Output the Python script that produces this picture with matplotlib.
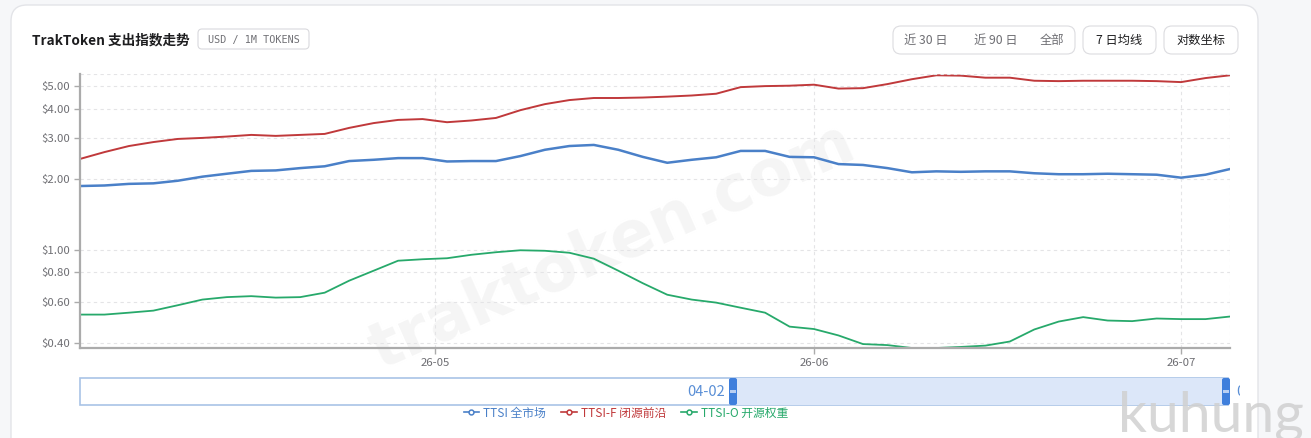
import numpy as np
import pandas as pd
import matplotlib
matplotlib.use("Agg")
import matplotlib.pyplot as plt
import matplotlib.dates as mdates
from matplotlib.patches import FancyBboxPatch, Rectangle
from matplotlib.lines import Line2D
from matplotlib.ticker import NullLocator
from matplotlib.transforms import Bbox

plt.rcParams['font.family'] = ['Noto Sans CJK SC', 'DejaVu Sans']

# ---------------- data ----------------
dates = pd.date_range("2026-04-02", periods=48, freq="2D")

ttsi = [1.87, 1.88, 1.91, 1.92, 1.97, 2.05, 2.11, 2.17, 2.18, 2.23, 2.27, 2.39,
        2.42, 2.46, 2.46, 2.38, 2.39, 2.39, 2.51, 2.67, 2.77, 2.80, 2.67, 2.49,
        2.35, 2.42, 2.48, 2.64, 2.64, 2.49, 2.48, 2.32, 2.30, 2.23, 2.14, 2.16,
        2.15, 2.16, 2.16, 2.12, 2.10, 2.10, 2.11, 2.10, 2.09, 2.03, 2.09, 2.21]

ttsi_f = [2.44, 2.61, 2.77, 2.88, 2.97, 3.00, 3.04, 3.09, 3.06, 3.09, 3.12, 3.31,
          3.47, 3.58, 3.61, 3.50, 3.56, 3.65, 3.94, 4.18, 4.35, 4.44, 4.44, 4.46,
          4.50, 4.55, 4.63, 4.94, 4.99, 5.01, 5.06, 4.87, 4.89, 5.09, 5.34, 5.55,
          5.53, 5.42, 5.42, 5.26, 5.24, 5.26, 5.26, 5.26, 5.24, 5.19, 5.40, 5.55]

ttsi_o = [0.529, 0.529, 0.539, 0.550, 0.580, 0.613, 0.628, 0.634, 0.625, 0.628, 0.656, 0.738,
          0.814, 0.898, 0.911, 0.920, 0.952, 0.976, 0.995, 0.990, 0.971, 0.916, 0.814, 0.720,
          0.643, 0.613, 0.595, 0.566, 0.539, 0.470, 0.459, 0.431, 0.396, 0.392, 0.381, 0.381,
          0.385, 0.390, 0.406, 0.457, 0.494, 0.516, 0.499, 0.496, 0.509, 0.506, 0.506, 0.519]

series_names = ["TTSI 全市场", "TTSI-F 闭源前沿", "TTSI-O 开源权重"]
series_colors = ["#4a80c8", "#c0393b", "#27a96b"]

y_ticks = [0.4, 0.6, 0.8, 1.0, 2.0, 3.0, 4.0, 5.0]
y_labels = ["$0.40", "$0.60", "$0.80", "$1.00", "$2.00", "$3.00", "$4.00", "$5.00"]
x_ticks = pd.to_datetime(["2026-05-01", "2026-06-01", "2026-07-01"])

W, H = 1311, 438
fig = plt.figure(figsize=(W / 100, H / 100), dpi=100)
fig.patch.set_facecolor("#f6f7f9")

# background layer in pixel coords
bg = fig.add_axes([0, 0, 1, 1], zorder=-1)
bg.set_xlim(0, W)
bg.set_ylim(H, 0)
bg.axis("off")

card = FancyBboxPatch((11, 5), 1247, 460, boxstyle="round,pad=0,rounding_size=16",
                      fc="white", ec="#e3e4e8", lw=1.0)
bg.add_patch(card)

bg.text(32, 40, "TrakToken 支出指数走势", fontsize=9.8, fontweight="bold",
        color="#1d1d1f", va="center", ha="left")
bg.add_patch(FancyBboxPatch((198, 29), 111, 20, boxstyle="round,pad=0,rounding_size=4",
                            fc="white", ec="#d9d9dd", lw=0.8))
bg.text(253.5, 39.5, "USD / 1M TOKENS", fontsize=7.3, family="DejaVu Sans Mono",
        color="#707075", ha="center", va="center")

# buttons
bg.add_patch(FancyBboxPatch((893, 26), 182, 28, boxstyle="round,pad=0,rounding_size=8",
                            fc="white", ec="#dcdce0", lw=0.8))
for bx, lab in [(926, "近 30 日"), (996, "近 90 日"), (1052, "全部")]:
    bg.text(bx, 40.5, lab, fontsize=8.8, color="#6e6e73", ha="center", va="center")
bg.add_patch(FancyBboxPatch((1083, 26), 73, 28, boxstyle="round,pad=0,rounding_size=8",
                            fc="white", ec="#dcdce0", lw=0.8))
bg.text(1119.5, 40.5, "7 日均线", fontsize=8.8, color="#1d1d1f", ha="center", va="center")
bg.add_patch(FancyBboxPatch((1164, 26), 74, 28, boxstyle="round,pad=0,rounding_size=8",
                            fc="white", ec="#dcdce0", lw=0.8))
bg.text(1201, 40.5, "对数坐标", fontsize=8.8, color="#1d1d1f", ha="center", va="center")

# watermark behind the lines
bg.text(612, 247, "traktoken.com", fontsize=46, fontweight="bold", color="#f5f5f5",
        rotation=24, ha="center", va="center", family="DejaVu Sans")

# data-zoom slider
bg.add_patch(Rectangle((80, 378), 1148, 27, fc="white", ec="#a9c3e6", lw=1.2))
bg.add_patch(Rectangle((733, 378), 495, 27, fc="#dce7f9", ec="none"))
for hx in (733, 1226):
    bg.add_patch(FancyBboxPatch((hx - 4, 378), 8, 27, boxstyle="round,pad=0,rounding_size=2",
                                fc="#3f7fdc", ec="none"))
    bg.add_patch(Rectangle((hx - 3, 390), 6, 3, fc="#b9cff2", ec="none"))
bg.text(725, 392, "04-02", fontsize=10.5, color="#5a8fd6", ha="right", va="center")
t = bg.text(1236, 392, "07-05", fontsize=10.5, color="#5a8fd6", ha="left", va="center")
t.set_clip_on(True)
t.set_clip_path(None)
t.set_clip_box(Bbox([[1235, 0], [1240, H]]))

# ---------------- main chart ----------------
ax = fig.add_axes([80 / W, 1 - 348 / H, 1150 / W, (348 - 74) / H], zorder=1)
ax.set_facecolor("none")

lws = [1.8, 1.4, 1.3]
for vals, name, col, lw in zip([ttsi, ttsi_f, ttsi_o], series_names, series_colors, lws):
    ax.plot(dates, vals, color=col, lw=lw, label=name)

ax.set_yscale("log")
ax.set_ylim(0.381, 5.62)
ax.set_xlim(dates[0], dates[-1])
ax.set_yticks(y_ticks)
ax.set_yticklabels(y_labels)
ax.yaxis.set_minor_locator(NullLocator())
ax.set_xticks(x_ticks)
ax.xaxis.set_major_formatter(mdates.DateFormatter("%y-%m"))
ax.xaxis.set_minor_locator(NullLocator())

ax.grid(True, which="major", ls=(0, (3, 3)), color="#e4e4e6", lw=0.8)
ax.axhline(5.62, ls=(0, (3, 3)), color="#e4e4e6", lw=0.8)
ax.axvline(dates[-1], ls=(0, (3, 3)), color="#e4e4e6", lw=0.8)

for s in ["top", "right"]:
    ax.spines[s].set_visible(False)
for s in ["left", "bottom"]:
    ax.spines[s].set_color("#ababab")
    ax.spines[s].set_linewidth(1.6)
ax.tick_params(axis="both", colors="#ababab", labelcolor="#6e6e73", labelsize=8.2, length=4, width=1)
ax.tick_params(axis="x", pad=3)

handles = [Line2D([0], [0], color=c, lw=1.2, marker="o", ms=3.5, mfc="white", mec=c, mew=1.1)
           for c in series_colors]
fig.legend(handles, series_names, loc="center", bbox_to_anchor=(626 / W, 1 - 413 / H),
           ncol=3, frameon=False, fontsize=8.5, handlelength=1.3, handletextpad=0.35,
           columnspacing=1.3, labelcolor=series_colors)

fig.text(1118 / W, 1 - 431 / H, "kuhung", fontsize=41, color="#d0d0d0", alpha=0.85,
         family="Lato", ha="left", va="baseline", zorder=5)

fig.savefig("out.png", dpi=100)
